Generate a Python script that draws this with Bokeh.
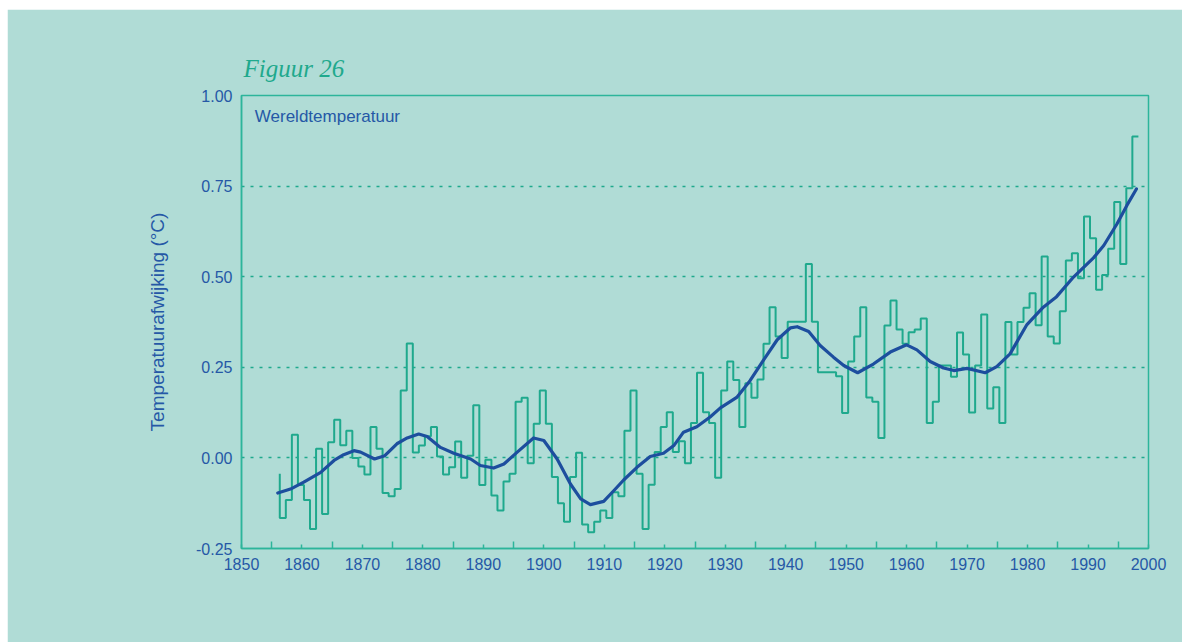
from bokeh.plotting import figure
from bokeh.models import FixedTicker, NumeralTickFormatter, Label, Spacer
from bokeh.layouts import column, row
from bokeh.embed import file_html
from bokeh.resources import INLINE

# ---- data ----
years = list(range(1856, 1999))
anomaly = [
    -0.044, -0.166, -0.116, 0.064, -0.075, -0.116, -0.196, 0.025, -0.155, 0.043,   # 1856-1865
    0.105, 0.035, 0.075, 0.000, -0.024, -0.046, 0.085, 0.025, -0.097, -0.106,      # 1866-1875
    -0.086, 0.186, 0.316, 0.015, 0.034, 0.060, 0.085, 0.004, -0.046, -0.026,       # 1876-1885
    0.045, -0.055, 0.006, 0.145, -0.075, -0.005, -0.104, -0.145, -0.065, -0.044,   # 1886-1895
    0.155, 0.166, -0.015, 0.094, 0.186, 0.094, -0.053, -0.125, -0.176, -0.053,     # 1896-1905
    0.014, -0.184, -0.205, -0.176, -0.145, -0.166, -0.095, -0.106, 0.075, 0.186,   # 1906-1915
    -0.044, -0.196, -0.074, 0.016, 0.085, 0.126, 0.016, 0.046, -0.015, 0.096,      # 1916-1925
    0.235, 0.126, 0.096, -0.055, 0.186, 0.266, 0.215, 0.085, 0.206, 0.166,         # 1926-1935
    0.216, 0.315, 0.416, 0.335, 0.276, 0.376, 0.376, 0.376, 0.535, 0.376,          # 1936-1945
    0.236, 0.236, 0.236, 0.225, 0.124, 0.266, 0.335, 0.416, 0.167, 0.155,          # 1946-1955
    0.055, 0.365, 0.434, 0.354, 0.315, 0.347, 0.354, 0.385, 0.096, 0.155,          # 1956-1965
    0.255, 0.255, 0.224, 0.346, 0.285, 0.125, 0.255, 0.396, 0.136, 0.195,          # 1966-1975
    0.096, 0.375, 0.285, 0.375, 0.414, 0.454, 0.366, 0.556, 0.335, 0.316,          # 1976-1985
    0.405, 0.545, 0.565, 0.496, 0.666, 0.606, 0.464, 0.505, 0.577, 0.706,          # 1986-1995
    0.535, 0.744, 0.887,                                                           # 1996-1998
]

smooth_years = [
    1856.0, 1858.1, 1860.3, 1863.1, 1865.3, 1866.9, 1868.6, 1869.7, 1872.0, 1873.7,
    1875.7, 1877.4, 1879.3, 1880.7, 1882.9, 1885.1, 1887.9, 1889.5, 1891.7, 1893.4,
    1895.6, 1898.3, 1900.0, 1902.2, 1904.4, 1906.1, 1907.7, 1909.9, 1911.6, 1913.2,
    1915.4, 1917.6, 1919.8, 1921.5, 1923.1, 1925.3, 1927.5, 1929.2, 1931.9, 1934.1,
    1936.3, 1938.6, 1940.8, 1941.9, 1943.8, 1945.7, 1947.9, 1949.6, 1951.9, 1954.5,
    1957.3, 1960.0, 1961.7, 1963.9, 1966.1, 1967.8, 1970.0, 1973.0, 1974.9, 1977.1,
    1979.9, 1982.6, 1984.8, 1987.6, 1990.9, 1992.6, 1994.8, 1996.4, 1998.0,
]
smooth_values = [
    -0.097, -0.086, -0.067, -0.040, -0.007, 0.009, 0.020, 0.016, -0.003, 0.006,
    0.039, 0.055, 0.066, 0.059, 0.029, 0.013, -0.003, -0.021, -0.028, -0.017,
    0.016, 0.055, 0.048, -0.003, -0.072, -0.113, -0.129, -0.120, -0.090, -0.061,
    -0.026, 0.004, 0.013, 0.034, 0.071, 0.086, 0.113, 0.138, 0.167, 0.213,
    0.269, 0.326, 0.359, 0.362, 0.349, 0.310, 0.278, 0.255, 0.235, 0.259,
    0.292, 0.312, 0.298, 0.266, 0.248, 0.241, 0.247, 0.235, 0.252, 0.287,
    0.368, 0.416, 0.445, 0.499, 0.552, 0.586, 0.646, 0.696, 0.742,
]

x_ticks = list(range(1850, 2001, 10))
x_minor_ticks = list(range(1855, 2000, 10))
y_ticks = [-0.25, 0.0, 0.25, 0.50, 0.75, 1.00]
grid_ticks = [0.0, 0.25, 0.50, 0.75]

title_text = "Figuur 26"
series_label = "Wereldtemperatuur"
y_label = "Temperatuurafwijking (\u00b0C)"

# ---- styling ----
BG = "#b0dcd6"
TEAL = "#1fa98d"
AXIS_TEAL = "#2cb59b"
BLUE = "#1d4e9e"
LABEL_BLUE = "#2558a6"
FONT = "Liberation Sans"

p = figure(width=1175, height=633, x_range=(1850, 2000), y_range=(-0.25, 1.0),
           output_backend="svg", toolbar_location=None,
           min_border_left=234, min_border_right=34, min_border_top=86, min_border_bottom=94,
           background_fill_color=BG, border_fill_color=BG,
           outline_line_color=AXIS_TEAL, outline_line_width=1.5)

p.title.text = title_text
p.title.text_font = "Liberation Serif"
p.title.text_font_style = "italic"
p.title.text_font_size = "25px"
p.title.text_color = TEAL
p.title.align = "left"
p.title.offset = 2
p.title.standoff = 28

# x axis
p.xaxis.ticker = FixedTicker(ticks=x_ticks, minor_ticks=x_minor_ticks)
p.xaxis.major_tick_in = 4
p.xaxis.major_tick_out = 0
p.xaxis.minor_tick_in = 7
p.xaxis.minor_tick_out = 0
p.xaxis.major_tick_line_color = AXIS_TEAL
p.xaxis.minor_tick_line_color = AXIS_TEAL
p.xaxis.major_tick_line_width = 1.5
p.xaxis.minor_tick_line_width = 1.5
p.xaxis.axis_line_color = AXIS_TEAL
p.xaxis.axis_line_width = 1.5
p.xaxis.major_label_text_font = FONT
p.xaxis.major_label_text_font_size = "16px"
p.xaxis.major_label_text_color = LABEL_BLUE
p.xaxis.major_label_standoff = 9

# y axis
p.yaxis.ticker = FixedTicker(ticks=y_ticks)
p.yaxis.formatter = NumeralTickFormatter(format="0.00")
p.yaxis.major_tick_in = 0
p.yaxis.major_tick_out = 0
p.yaxis.minor_tick_line_color = None
p.yaxis.axis_line_color = AXIS_TEAL
p.yaxis.axis_line_width = 1.5
p.yaxis.major_label_text_font = FONT
p.yaxis.major_label_text_font_size = "16px"
p.yaxis.major_label_text_color = LABEL_BLUE
p.yaxis.major_label_standoff = 9
p.yaxis.axis_label = y_label
p.yaxis.axis_label_text_font = FONT
p.yaxis.axis_label_text_font_style = "normal"
p.yaxis.axis_label_text_font_size = "19px"
p.yaxis.axis_label_text_color = LABEL_BLUE
p.yaxis.axis_label_standoff = 25

# grid
p.xgrid.visible = False
p.ygrid.ticker = FixedTicker(ticks=grid_ticks)
p.ygrid.grid_line_color = TEAL
p.ygrid.grid_line_dash = "3 6"
p.ygrid.grid_line_width = 1.5

# data
step_x = [y + 0.33 for y in years]
p.step(step_x, anomaly, mode="before", line_color=TEAL, line_width=2)
p.line(smooth_years, smooth_values, line_color=BLUE, line_width=3.2,
       line_join="round", line_cap="round")

p.add_layout(Label(x=1852.2, y=0.941, text=series_label, text_font=FONT,
                   text_font_size="17px", text_color=LABEL_BLUE,
                   text_baseline="alphabetic", text_align="left"))

page = column(Spacer(height=9, width=1175), row(Spacer(width=7, height=633), p))

open("out.html", "w").write(file_html(page, INLINE))
